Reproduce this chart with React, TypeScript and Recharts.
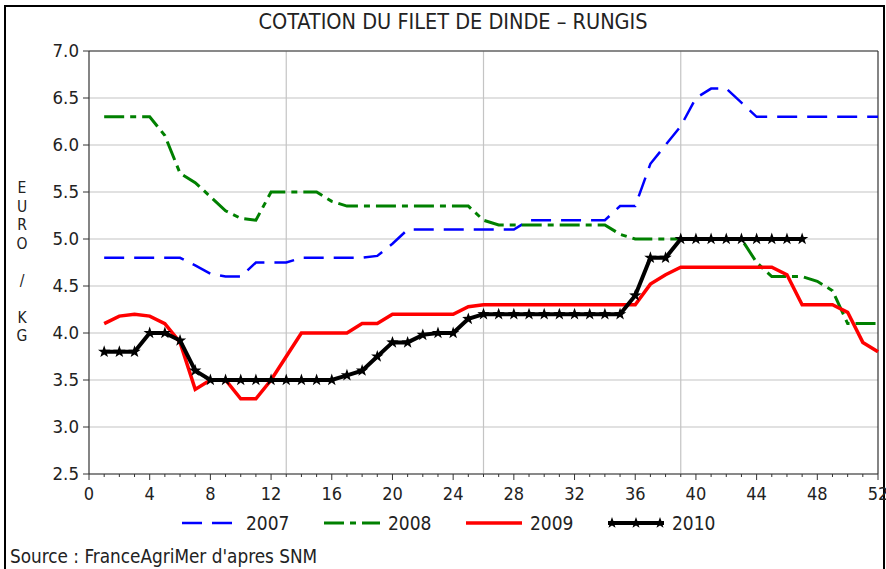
import React from "react";
import { LineChart, Line, XAxis, YAxis, CartesianGrid, ReferenceLine } from "recharts";

// semaines et cotations (euro / kg)
const WEEKS = [
  1, 2, 3, 4, 5, 6, 7, 8, 9, 10, 11, 12, 13, 14, 15, 16, 17, 18, 19, 20, 21, 22, 23, 24, 25, 26,
  27, 28, 29, 30, 31, 32, 33, 34, 35, 36, 37, 38, 39, 40, 41, 42, 43, 44, 45, 46, 47, 48, 49, 50, 51, 52,
];

const PRICES_2007 = [
  4.8, 4.8, 4.8, 4.8, 4.8, 4.8, 4.72, 4.63, 4.6, 4.6, 4.75, 4.75, 4.75, 4.8, 4.8, 4.8, 4.8, 4.8, 4.82, 4.95,
  5.1, 5.1, 5.1, 5.1, 5.1, 5.1, 5.1, 5.1, 5.2, 5.2, 5.2, 5.2, 5.2, 5.2, 5.35, 5.35, 5.8, 6.0, 6.2, 6.5,
  6.6, 6.6, 6.45, 6.3, 6.3, 6.3, 6.3, 6.3, 6.3, 6.3, 6.3, 6.3,
];

const PRICES_2008 = [
  6.3, 6.3, 6.3, 6.3, 6.1, 5.7, 5.6, 5.45, 5.3, 5.22, 5.2, 5.5, 5.5, 5.5, 5.5, 5.4, 5.35, 5.35, 5.35, 5.35,
  5.35, 5.35, 5.35, 5.35, 5.35, 5.2, 5.15, 5.15, 5.15, 5.15, 5.15, 5.15, 5.15, 5.15, 5.05, 5.0, 5.0, 5.0, 5.0, 5.0,
  5.0, 5.0, 5.0, 4.75, 4.6, 4.6, 4.6, 4.55, 4.45, 4.1, 4.1, 4.1,
];

const PRICES_2009 = [
  4.1, 4.18, 4.2, 4.18, 4.1, 3.9, 3.4, 3.5, 3.5, 3.3, 3.3, 3.5, 3.75, 4.0, 4.0, 4.0, 4.0, 4.1, 4.1, 4.2,
  4.2, 4.2, 4.2, 4.2, 4.28, 4.3, 4.3, 4.3, 4.3, 4.3, 4.3, 4.3, 4.3, 4.3, 4.3, 4.3, 4.52, 4.62, 4.7, 4.7,
  4.7, 4.7, 4.7, 4.7, 4.7, 4.62, 4.3, 4.3, 4.3, 4.22, 3.9, 3.8,
];

const PRICES_2010 = [
  3.8, 3.8, 3.8, 4.0, 4.0, 3.92, 3.6, 3.5, 3.5, 3.5, 3.5, 3.5, 3.5, 3.5, 3.5, 3.5, 3.55, 3.6, 3.75, 3.9,
  3.9, 3.98, 4.0, 4.0, 4.15, 4.2, 4.2, 4.2, 4.2, 4.2, 4.2, 4.2, 4.2, 4.2, 4.2, 4.4, 4.8, 4.8, 5.0, 5.0,
  5.0, 5.0, 5.0, 5.0, 5.0, 5.0, 5.0,
];

const Y_TICKS = [2.5, 3.0, 3.5, 4.0, 4.5, 5.0, 5.5, 6.0, 6.5, 7.0];
const X_TICKS = [
  0, 1, 2, 3, 4, 5, 6, 7, 8, 9, 10, 11, 12, 13, 14, 15, 16, 17, 18, 19, 20, 21, 22, 23, 24, 25, 26,
  27, 28, 29, 30, 31, 32, 33, 34, 35, 36, 37, 38, 39, 40, 41, 42, 43, 44, 45, 46, 47, 48, 49, 50, 51, 52,
];
const QUARTERS = [13, 26, 39];

const TITLE = "COTATION DU FILET DE DINDE \u2013 RUNGIS";
const Y_LABEL = "E\nU\nR\nO\n\n/\n\nK\nG";
const SOURCE = "Source : FranceAgriMer d'apres SNM";

const FONT = '"DejaVu Sans Condensed", "DejaVu Sans", sans-serif';
const TXT = "#222";

const SERIES = [
  { key: "y2007", name: "2007", color: "#0000ff", width: 2.5, dash: "20 10" },
  { key: "y2008", name: "2008", color: "#008000", width: 3, dash: "20 6 6 6" },
  { key: "y2009", name: "2009", color: "#ff0000", width: 3.5, dash: undefined },
  { key: "y2010", name: "2010", color: "#000000", width: 4, dash: undefined },
];

const data = WEEKS.map((w, i) => ({
  week: w,
  y2007: PRICES_2007[i],
  y2008: PRICES_2008[i],
  y2009: PRICES_2009[i],
  y2010: i < PRICES_2010.length ? PRICES_2010[i] : null,
}));

function starPoints(cx: number, cy: number, r: number, r2: number) {
  const pts: string[] = [];
  for (let k = 0; k < 10; k++) {
    const rad = k % 2 === 0 ? r : r2;
    const a = -Math.PI / 2 + (k * Math.PI) / 5;
    pts.push(`${cx + rad * Math.cos(a)},${cy + rad * Math.sin(a)}`);
  }
  return pts.join(" ");
}

const StarDot = (props: any) => {
  const { cx, cy, index } = props;
  if (cx == null || cy == null || props.value == null) return <g key={`s-${index}`} />;
  return <polygon key={`s-${index}`} points={starPoints(cx, cy, 6.5, 2.6)} fill="#000" />;
};

const XTick = (props: any) => {
  const { x, y, payload } = props;
  const major = payload.value % 4 === 0;
  return (
    <g>
      <line x1={x} y1={y} x2={x} y2={y + (major ? 6 : 3)} stroke="#333" strokeWidth={1} />
      {major && (
        <text x={x} y={y + 26} textAnchor="middle" fontSize={18} fill={TXT} fontFamily={FONT}>
          {payload.value}
        </text>
      )}
    </g>
  );
};

const YTick = (props: any) => {
  const { x, y, payload } = props;
  return (
    <g>
      <line x1={x - 6} y1={y} x2={x} y2={y} stroke="#333" strokeWidth={1} />
      <text x={x - 10} y={y + 6} textAnchor="end" fontSize={18.5} fill={TXT} fontFamily={FONT}>
        {payload.value.toFixed(1)}
      </text>
    </g>
  );
};

function LegendSample({ s }: { s: (typeof SERIES)[number] }) {
  return (
    <svg width={56} height={14} style={{ display: "block" }}>
      <line x1={0} y1={7} x2={56} y2={7} stroke={s.color} strokeWidth={s.width} strokeDasharray={s.dash} />
      {s.key === "y2010" &&
        [4, 28, 52].map((cx) => <polygon key={cx} points={starPoints(cx, 7, 6, 2.4)} fill="#000" />)}
    </svg>
  );
}

export default function App() {
  return (
    <div style={{ position: "fixed", left: 0, top: 0, width: 886, height: 569, background: "#fff", overflow: "hidden" }}>
      <div
        style={{
          position: "absolute",
          left: 4,
          top: 5,
          width: 877,
          height: 600,
          borderLeft: "2px solid #000",
          borderTop: "2px solid #000",
          borderRight: "2px solid #000",
        }}
      />
      <div
        style={{
          position: "absolute",
          top: 9,
          left: 0,
          width: 906,
          textAlign: "center",
          fontFamily: FONT,
          fontSize: 21.5,
          lineHeight: "26px",
          color: TXT,
        }}
      >
        {TITLE}
      </div>
      <div
        style={{
          position: "absolute",
          left: 14,
          top: 179,
          width: 16,
          whiteSpace: "pre",
          lineHeight: "18.5px",
          textAlign: "center",
          fontFamily: FONT,
          fontSize: 15.5,
          color: TXT,
        }}
      >
        {Y_LABEL}
      </div>
      <div style={{ position: "absolute", left: 0, top: 0 }}>
        <LineChart width={886} height={569} data={data} margin={{ top: 51, right: 8, left: 39, bottom: 65 }}>
          <CartesianGrid vertical={false} stroke="#c4c4c4" strokeWidth={1.2} />
          {QUARTERS.map((q) => (
            <ReferenceLine key={q} x={q} stroke="#c4c4c4" strokeWidth={1.2} />
          ))}
          <ReferenceLine x={52} stroke="#333" strokeWidth={1.2} />
          <ReferenceLine y={7} stroke="#333" strokeWidth={1.2} />
          <XAxis
            dataKey="week"
            type="number"
            domain={[0, 52]}
            ticks={X_TICKS}
            interval={0}
            height={30}
            tickSize={0}
            tickMargin={0}
            axisLine={{ stroke: "#333", strokeWidth: 1.2 }}
            tickLine={false}
            tick={<XTick />}
          />
          <YAxis
            type="number"
            domain={[2.5, 7]}
            ticks={Y_TICKS}
            interval={0}
            width={50}
            tickSize={0}
            tickMargin={0}
            axisLine={{ stroke: "#333", strokeWidth: 1.2 }}
            tickLine={false}
            tick={<YTick />}
          />
          {SERIES.map((s) => (
            <Line
              key={s.key}
              type="linear"
              dataKey={s.key}
              name={s.name}
              stroke={s.color}
              strokeWidth={s.width}
              strokeDasharray={s.dash}
              dot={s.key === "y2010" ? <StarDot /> : false}
              activeDot={false}
              connectNulls={false}
              isAnimationActive={false}
            />
          ))}
        </LineChart>
      </div>
      <div style={{ position: "absolute", top: 512, left: 182, display: "flex", alignItems: "center" }}>
        {SERIES.map((s) => (
          <div key={s.key} style={{ display: "flex", alignItems: "center", width: 142 }}>
            <LegendSample s={s} />
            <span style={{ marginLeft: 8, fontFamily: FONT, fontSize: 19, color: TXT }}>{s.name}</span>
          </div>
        ))}
      </div>
      <div style={{ position: "absolute", left: 10, top: 546, fontFamily: FONT, fontSize: 18.8, color: TXT }}>{SOURCE}</div>
    </div>
  );
}
